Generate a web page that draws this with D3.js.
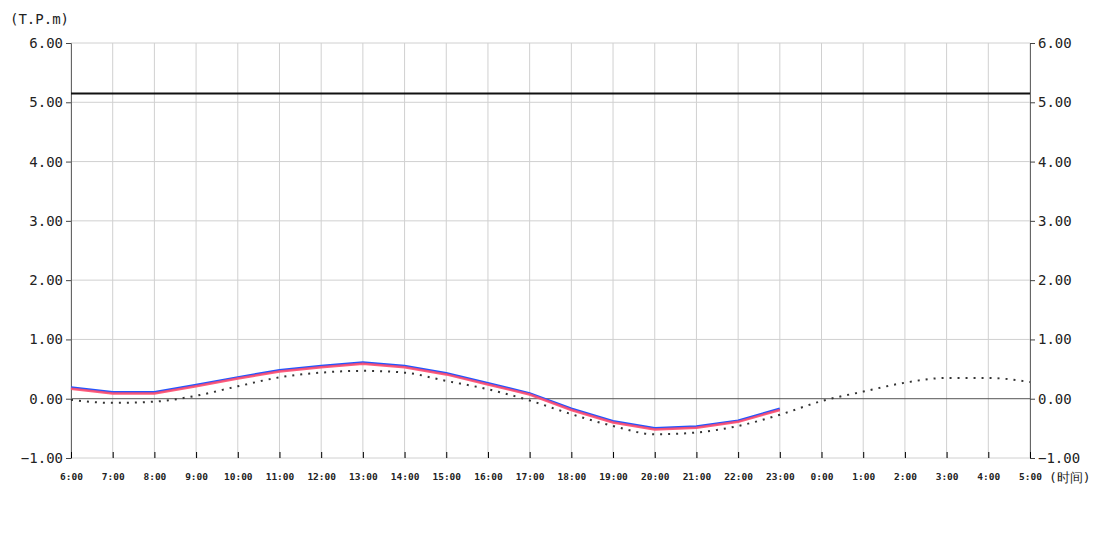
<!DOCTYPE html>
<html><head><meta charset="utf-8">
<script src="https://cdn.jsdelivr.net/npm/d3@7"></script>
<style>body{margin:0;background:#fff}svg{display:block}text{font-family:"DejaVu Sans Mono",monospace}</style>
</head><body><svg id="c" width="1100" height="550"></svg>
<script>
const hours = ["6:00","7:00","8:00","9:00","10:00","11:00","12:00","13:00","14:00","15:00","16:00","17:00","18:00","19:00","20:00","21:00","22:00","23:00","0:00","1:00","2:00","3:00","4:00","5:00"];
const observedBlue = [0.19,0.11,0.11,0.23,0.36,0.48,0.55,0.61,0.55,0.43,0.26,0.09,-0.17,-0.38,-0.50,-0.47,-0.37,-0.17];
const observedRed  = [0.17,0.09,0.09,0.21,0.34,0.46,0.53,0.59,0.53,0.41,0.24,0.07,-0.19,-0.40,-0.52,-0.49,-0.39,-0.19];
const astroTide    = [-0.02,-0.07,-0.05,0.05,0.21,0.36,0.44,0.47,0.44,0.30,0.16,-0.03,-0.26,-0.46,-0.60,-0.57,-0.46,-0.27,-0.04,0.12,0.27,0.35,0.35,0.28];
const warningLevel = 5.15;
const yTicks = [-1,0,1,2,3,4,5,6];

const svg = d3.select("#c");
const L=71,R=1030,T=43,B=458;
const x = d3.scalePoint().domain(hours).range([L,R]);
const y = d3.scaleLinear().domain([-1,6]).range([B,T]);

// grid
svg.append("g").selectAll("line").data(hours).join("line")
  .attr("x1",d=>x(d)).attr("x2",d=>x(d)).attr("y1",T).attr("y2",B)
  .attr("stroke","#d0d0d0").attr("stroke-width",1);
svg.append("g").selectAll("line").data(yTicks).join("line")
  .attr("x1",L).attr("x2",R).attr("y1",d=>y(d)).attr("y2",d=>y(d))
  .attr("stroke",d=>d===0?"#555":"#d0d0d0").attr("stroke-width",1);

// axes
const fmt = d3.format(".2f");
const la = svg.append("g").attr("transform",`translate(${L},0)`)
  .call(d3.axisLeft(y).tickValues(yTicks).tickFormat(fmt).tickSize(5).tickPadding(3));
const ra = svg.append("g").attr("transform",`translate(${R},0)`)
  .call(d3.axisRight(y).tickValues(yTicks).tickFormat(fmt).tickSize(5).tickPadding(3));
[la,ra].forEach(g=>{
  g.select(".domain").attr("stroke","#666");
  g.selectAll(".tick line").attr("stroke","#444");
  g.selectAll("text").attr("font-family","DejaVu Sans Mono").attr("font-size",14).attr("fill","#222");
});
const ba = svg.append("g").attr("transform",`translate(0,${B})`)
  .call(d3.axisBottom(x).tickSize(-6).tickPadding(15));
ba.select(".domain").remove();
ba.selectAll(".tick line").attr("stroke","#000");
ba.selectAll("text").attr("font-family","DejaVu Sans Mono").attr("font-size",9.5).attr("font-weight","bold").attr("fill","#222");

// warning line
svg.append("line").attr("x1",L).attr("x2",R).attr("y1",y(warningLevel)).attr("y2",y(warningLevel))
  .attr("stroke","#111").attr("stroke-width",2);

const line = d3.line().x((d,i)=>x(hours[i])).y(d=>y(d));
svg.append("path").datum(astroTide).attr("d",line.curve(d3.curveMonotoneX))
  .attr("fill","none").attr("stroke","#333").attr("stroke-width",2).attr("stroke-dasharray","2,6");
const line2 = d3.line().x((d,i)=>x(hours[i])).y(d=>y(d));
svg.append("path").datum(observedBlue).attr("d",line2)
  .attr("fill","none").attr("stroke","#2255ff").attr("stroke-width",2.5);
svg.append("path").datum(observedRed).attr("d",line2)
  .attr("fill","none").attr("stroke","#ff4d6d").attr("stroke-width",2.5).attr("stroke-opacity",0.9);

svg.append("text").attr("x",10).attr("y",24).attr("font-size",14).attr("fill","#222").text("(T.P.m)");
svg.append("text").attr("x",1049).attr("y",482).attr("font-size",13).attr("fill","#222").text("(时间)");
</script></body></html>
